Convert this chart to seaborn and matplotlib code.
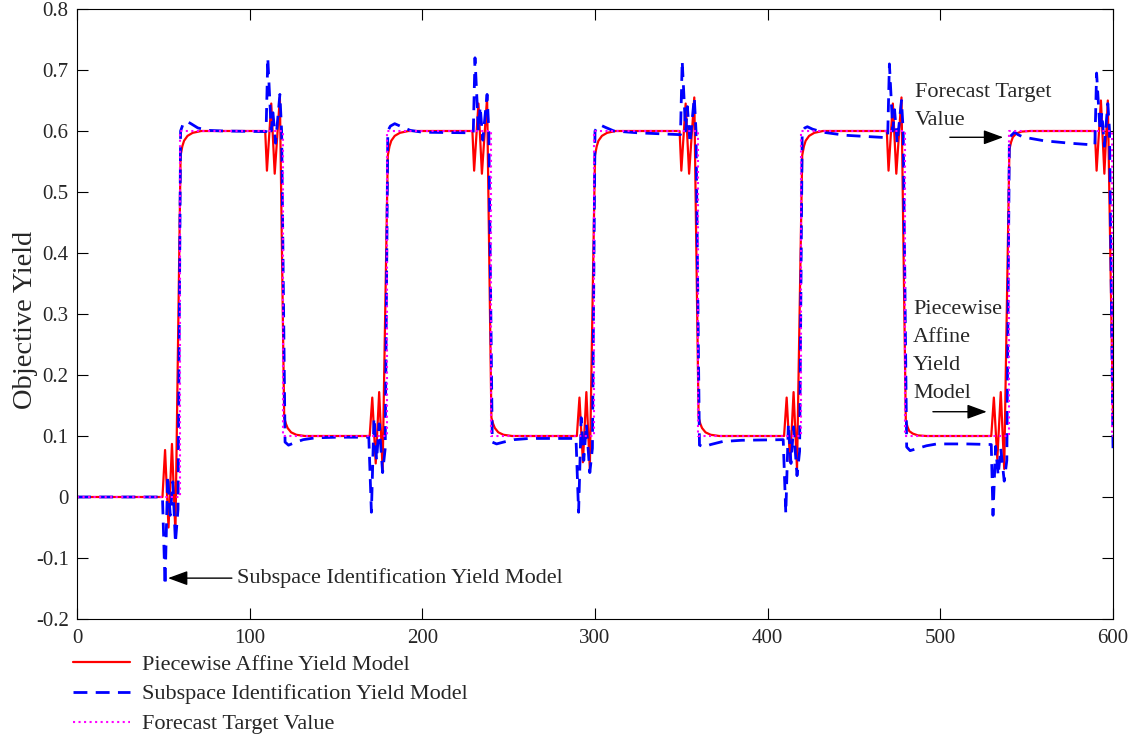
import matplotlib
matplotlib.use("Agg")
import matplotlib.pyplot as plt
import pandas as pd
import seaborn as sns

# ---- data (sample index, yield) ----
red_x = [0, 49.5, 51, 53, 55, 57, 60, 61, 62, 64, 67, 72, 109,
         110, 112.5, 114.5, 117.5, 120, 121, 122, 124, 127, 132, 169.5,
         171, 173, 175, 177, 180, 181, 182, 184, 187, 192, 229,
         230, 232.5, 234.5, 237.5, 240, 241, 242, 244, 247, 252, 289.5,
         291, 293, 295, 297, 300, 301, 302, 304, 307, 312, 349,
         350, 352.5, 354.5, 357.5, 360, 361, 362, 364, 367, 372, 409.5,
         411, 413, 415, 417, 420, 421, 422, 424, 427, 432, 469,
         470, 472.5, 474.5, 477.5, 480, 481, 482, 484, 487, 492, 529.5,
         531, 533, 535, 537, 540, 541, 542, 544, 547, 552, 589.5,
         590.5, 593, 595, 597, 600]
red_y = [0.0, 0.0, 0.077, -0.05, 0.087, -0.06, 0.56, 0.575, 0.584, 0.592, 0.597, 0.6, 0.6,
         0.535, 0.645, 0.53, 0.655, 0.13, 0.12, 0.113, 0.106, 0.102, 0.1, 0.1,
         0.163, 0.055, 0.172, 0.045, 0.56, 0.575, 0.584, 0.592, 0.597, 0.6, 0.6,
         0.535, 0.645, 0.53, 0.655, 0.13, 0.12, 0.113, 0.106, 0.102, 0.1, 0.1,
         0.163, 0.057, 0.172, 0.046, 0.56, 0.575, 0.584, 0.592, 0.597, 0.6, 0.6,
         0.535, 0.645, 0.53, 0.655, 0.13, 0.12, 0.113, 0.106, 0.102, 0.1, 0.1,
         0.163, 0.057, 0.172, 0.046, 0.56, 0.575, 0.584, 0.592, 0.597, 0.6, 0.6,
         0.535, 0.645, 0.53, 0.655, 0.125, 0.115, 0.108, 0.104, 0.101, 0.1, 0.1,
         0.163, 0.062, 0.172, 0.046, 0.57, 0.582, 0.59, 0.596, 0.599, 0.6, 0.6,
         0.535, 0.65, 0.53, 0.65, 0.13]

blue_x = [0, 49.5, 51, 52.5, 54, 55.5, 57, 58.5, 60, 61.5, 63.5, 66, 70, 76, 85, 109.5,
          110.5, 112.5, 113.5, 115, 117.5, 118.5, 120.5, 122.5, 126, 131, 138, 150, 169,
          170.5, 172, 173.5, 175, 177, 178.5, 180, 181.5, 184, 188, 193, 200, 229.5,
          230.5, 232.5, 233.5, 235, 237.5, 238.5, 240.5, 243, 247, 253, 262, 289,
          290.5, 292, 293.5, 295, 297, 298.5, 300, 301.5, 303, 306, 311, 325, 349.5,
          350.5, 352.5, 353.5, 355, 357.5, 358.5, 360.5, 363, 367, 374, 385, 409,
          410.5, 412, 413.5, 415, 417, 418.5, 420, 421.5, 423, 426, 432, 445, 469.5,
          470.5, 472.5, 473.5, 475, 477.5, 478.5, 480.5, 482.5, 486, 492, 498, 515, 529.5,
          530.5, 532, 533.5, 535, 537, 538.5, 540, 541.2, 543, 545, 548, 560, 575, 589.5,
          590.5, 592.5, 593.5, 595, 597, 598, 600]
blue_y = [0.0, 0.0, -0.145, 0.035, -0.03, 0.025, -0.075, -0.02, 0.6, 0.612, 0.616, 0.612, 0.605, 0.601, 0.6, 0.599,
          0.72, 0.6, 0.63, 0.58, 0.66, 0.6, 0.09, 0.085, 0.089, 0.094, 0.097, 0.098, 0.098,
          -0.025, 0.13, 0.06, 0.12, 0.04, 0.08, 0.6, 0.608, 0.612, 0.607, 0.601, 0.598, 0.597,
          0.72, 0.6, 0.64, 0.585, 0.66, 0.6, 0.09, 0.087, 0.09, 0.094, 0.096, 0.096,
          -0.025, 0.13, 0.06, 0.12, 0.04, 0.08, 0.6, 0.607, 0.61, 0.606, 0.6, 0.597, 0.594,
          0.715, 0.6, 0.64, 0.58, 0.655, 0.6, 0.085, 0.082, 0.086, 0.091, 0.093, 0.094,
          -0.027, 0.12, 0.055, 0.115, 0.035, 0.075, 0.6, 0.605, 0.607, 0.603, 0.598, 0.593, 0.589,
          0.71, 0.6, 0.635, 0.58, 0.65, 0.6, 0.082, 0.076, 0.079, 0.084, 0.087, 0.087, 0.086,
          -0.03, 0.083, 0.035, 0.08, 0.026, 0.06, 0.59, 0.593, 0.598, 0.594, 0.59, 0.584, 0.58, 0.577,
          0.695, 0.6, 0.63, 0.575, 0.645, 0.6, 0.08]

target_x = [0, 59.5, 59.5, 119.5, 119.5, 179.5, 179.5, 239.5, 239.5, 299.5, 299.5,
            359.5, 359.5, 419.5, 419.5, 479.5, 479.5, 539.5, 539.5, 599.5, 599.5, 600]
target_y = [0.0, 0.0, 0.6, 0.6, 0.1, 0.1, 0.6, 0.6, 0.1, 0.1, 0.6,
            0.6, 0.1, 0.1, 0.6, 0.6, 0.1, 0.1, 0.6, 0.6, 0.1, 0.1]

x_ticks = [0, 100, 200, 300, 400, 500, 600]
y_ticks = [-0.2, -0.1, 0, 0.1, 0.2, 0.3, 0.4, 0.5, 0.6, 0.7, 0.8]
y_tick_labels = ["-0.2", "-0.1", "0", "0.1", "0.2", "0.3", "0.4", "0.5", "0.6", "0.7", "0.8"]

series_names = ["Piecewise Affine Yield Model", "Subspace Identification Yield Model",
                "Forecast Target Value"]


def main():
    sns.set_theme(style="ticks")
    plt.rcParams["font.family"] = ["Liberation Serif", "DejaVu Serif"]
    plt.rcParams["xtick.direction"] = "in"
    plt.rcParams["ytick.direction"] = "in"

    fig = plt.figure(figsize=(11.34, 7.44), dpi=100)
    ax = fig.add_axes([77 / 1134, 1 - 619 / 744, 1036 / 1134, 610 / 744])

    red_df = pd.DataFrame({"x": red_x, "y": red_y})
    blue_df = pd.DataFrame({"x": blue_x, "y": blue_y})
    target_df = pd.DataFrame({"x": target_x, "y": target_y})

    sns.lineplot(data=red_df, x="x", y="y", ax=ax, sort=False, estimator=None,
                 color="#ff0000", linewidth=1.6, label=series_names[0])
    sns.lineplot(data=blue_df, x="x", y="y", ax=ax, sort=False, estimator=None,
                 color="#0000ff", linewidth=2.0, linestyle=(0, (5, 3)), label=series_names[1])
    sns.lineplot(data=target_df, x="x", y="y", ax=ax, sort=False, estimator=None,
                 color="#ff00ff", linewidth=1.5, linestyle=":", label=series_names[2])

    ax.set_xlim(0, 600)
    ax.set_ylim(-0.2, 0.8)
    ax.set_xticks(x_ticks)
    ax.set_xticklabels([str(t) for t in x_ticks])
    ax.set_yticks(y_ticks)
    ax.set_yticklabels(y_tick_labels)
    ax.tick_params(axis="both", which="major", labelsize=15, length=8, width=0.8,
                   color="black", top=True, right=True)
    ax.tick_params(axis="x", pad=7)
    ax.tick_params(axis="y", pad=6)
    for sp in ax.spines.values():
        sp.set_visible(True)
        sp.set_color("black")
        sp.set_linewidth(0.8)

    ax.set_xlabel("")
    ax.set_ylabel("Objective Yield", fontsize=20.5)
    ax.yaxis.set_label_coords(-0.038, 0.49)

    # annotations
    arrow = dict(arrowstyle="-|>,head_length=0.6,head_width=0.22", color="black",
                 lw=1.0, shrinkA=0, shrinkB=0, mutation_scale=20)
    ax.annotate("", xy=(52.7, -0.133), xytext=(89.7, -0.133), arrowprops=arrow)
    ax.text(92.5, -0.141, "Subspace Identification Yield Model", fontsize=16,
            ha="left", va="baseline")

    ax.annotate("", xy=(536.4, 0.5897), xytext=(505.5, 0.5897), arrowprops=arrow)
    ax.text(485.2, 0.655, "Forecast Target", fontsize=16, ha="left", va="baseline")
    ax.text(485.2, 0.6095, "Value", fontsize=16, ha="left", va="baseline")

    ax.annotate("", xy=(526.9, 0.1398), xytext=(495.7, 0.1398), arrowprops=arrow)
    for txt, yb in zip(["Piecewise", "Affine", "Yield", "Model"],
                       [0.300, 0.254, 0.208, 0.162]):
        ax.text(484.3, yb, txt, fontsize=16, ha="left", va="baseline")

    ax.legend_.remove()
    handles, labels = ax.get_legend_handles_labels()
    fig.legend(handles, labels, loc="upper left", bbox_to_anchor=(73 / 1134, 1 - 654 / 744),
               frameon=False, fontsize=16, handlelength=2.55, handletextpad=0.55,
               labelspacing=0.42, borderpad=0, borderaxespad=0)

    fig.savefig("out.png", dpi=100)
    plt.close(fig)


if __name__ == "__main__":
    main()
